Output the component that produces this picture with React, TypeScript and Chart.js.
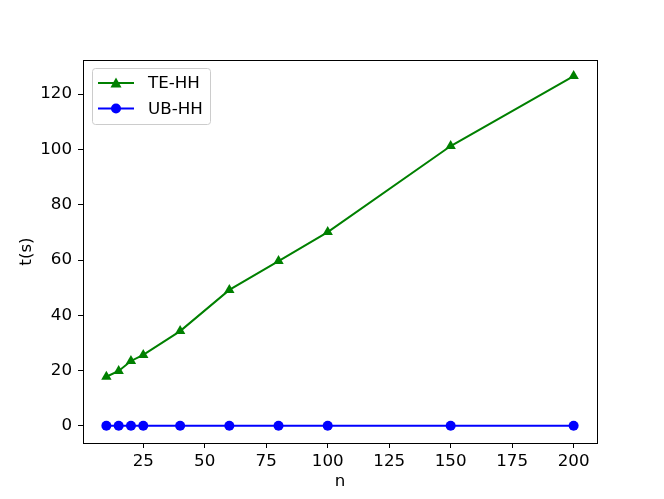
import React, { useEffect, useRef } from "react";
import { Chart, registerables } from "chart.js";

Chart.register(...registerables);

const nValues = [10, 15, 20, 25, 40, 60, 80, 100, 150, 200];
const teHH = [17.8, 19.9, 23.5, 25.7, 34.3, 49.2, 59.6, 70.1, 101.2, 126.5];
const ubHH = [0.1, 0.1, 0.1, 0.1, 0.1, 0.1, 0.1, 0.1, 0.1, 0.1];
const xTicks = [25, 50, 75, 100, 125, 150, 175, 200];
const yTicks = [0, 20, 40, 60, 80, 100, 120];
const seriesNames = ["TE-HH", "UB-HH"];
const seriesColors = ["#008000", "#0000ff"];
const seriesMarkers = ["triangle", "circle"];

const FONT = "'DejaVu Sans', sans-serif";
const FS = 16.7;

const framePlugin = {
  id: "frame",
  afterDraw(chart: any) {
    const { ctx, chartArea: a } = chart;
    ctx.save();
    ctx.strokeStyle = "#000";
    ctx.lineWidth = 1;
    ctx.strokeRect(Math.round(a.left) + 0.5, Math.round(a.top) + 0.5, Math.round(a.right - a.left), Math.round(a.bottom - a.top));
    ctx.restore();
  },
};

const legendPlugin = {
  id: "mplLegend",
  afterDraw(chart: any) {
    const { ctx, chartArea: a } = chart;
    const x0 = a.left + 9;
    const y0 = a.top + 8;
    const w = 118;
    const h = 56;
    ctx.save();
    ctx.fillStyle = "rgba(255,255,255,0.8)";
    ctx.strokeStyle = "#cccccc";
    ctx.lineWidth = 1;
    ctx.beginPath();
    (ctx as any).roundRect(x0 + 0.5, y0 + 0.5, w, h, 3);
    ctx.fill();
    ctx.stroke();
    chart.data.datasets.forEach((ds: any, i: number) => {
      const yy = y0 + 15 + i * 25.5;
      ctx.strokeStyle = ds.borderColor;
      ctx.lineWidth = 2;
      ctx.beginPath();
      ctx.moveTo(x0 + 6, yy);
      ctx.lineTo(x0 + 42, yy);
      ctx.stroke();
      ctx.fillStyle = ds.pointBackgroundColor;
      ctx.beginPath();
      if (ds.pointStyle === "triangle") {
        const r = 5.5;
        ctx.moveTo(x0 + 24, yy - r);
        ctx.lineTo(x0 + 24 + r, yy + r * 0.8);
        ctx.lineTo(x0 + 24 - r, yy + r * 0.8);
        ctx.closePath();
      } else {
        ctx.arc(x0 + 24, yy, 5, 0, Math.PI * 2);
      }
      ctx.fill();
      ctx.fillStyle = "#000";
      ctx.font = `${FS}px ${FONT}`;
      ctx.textBaseline = "middle";
      ctx.textAlign = "left";
      ctx.fillText(ds.label, x0 + 56, yy + 1);
    });
    ctx.restore();
  },
};

export default function App() {
  const ref = useRef<HTMLCanvasElement>(null);
  useEffect(() => {
    if (!ref.current) return;
    const datasets = seriesNames.map((name, i) => ({
      label: name,
      data: nValues.map((n, j) => ({ x: n, y: (i === 0 ? teHH : ubHH)[j] })),
      borderColor: seriesColors[i],
      backgroundColor: seriesColors[i],
      pointBackgroundColor: seriesColors[i],
      pointBorderColor: seriesColors[i],
      pointStyle: seriesMarkers[i],
      pointRadius: i === 0 ? 6 : 5,
      pointBorderWidth: 0,
      borderWidth: 2,
      tension: 0,
    }));
    const tickFont = { family: FONT, size: FS };
    const chart = new Chart(ref.current, {
      type: "line",
      data: { datasets },
      options: {
        animation: false,
        responsive: false,
        maintainAspectRatio: false,
        layout: { padding: { top: 60, right: 67, left: 0, bottom: 0 } },
        plugins: { legend: { display: false }, tooltip: { enabled: false } },
        scales: {
          x: {
            type: "linear",
            min: 0.5,
            max: 209.5,
            afterBuildTicks: (s: any) => {
              s.ticks = xTicks.map((v) => ({ value: v }));
            },
            afterFit: (s: any) => {
              s.height = 56;
            },
            grid: { drawOnChartArea: false, drawTicks: true, tickLength: 5, color: "#000" },
            border: { display: true, color: "#000", width: 1 },
            ticks: { color: "#000", font: tickFont, padding: 4, maxRotation: 0 },
            title: { display: true, text: "n", color: "#000", font: tickFont, padding: { top: 0, bottom: 7 } },
          },
          y: {
            type: "linear",
            min: -6.15,
            max: 132.3,
            afterBuildTicks: (s: any) => {
              s.ticks = yTicks.map((v) => ({ value: v }));
            },
            afterFit: (s: any) => {
              s.width = 83;
            },
            grid: { drawOnChartArea: false, drawTicks: true, tickLength: 5, color: "#000" },
            border: { display: true, color: "#000", width: 1 },
            ticks: { color: "#000", font: tickFont, padding: 6 },
            title: { display: true, text: "t(s)", color: "#000", font: tickFont, padding: { top: 17, bottom: 0 } },
          },
        },
      },
      plugins: [framePlugin, legendPlugin],
    } as any);
    return () => chart.destroy();
  }, []);
  return (
    <div style={{ position: "fixed", left: 0, top: 0, width: 664, height: 499, background: "#fff" }}>
      <canvas ref={ref} width={664} height={499} style={{ width: 664, height: 499 }} />
    </div>
  );
}
